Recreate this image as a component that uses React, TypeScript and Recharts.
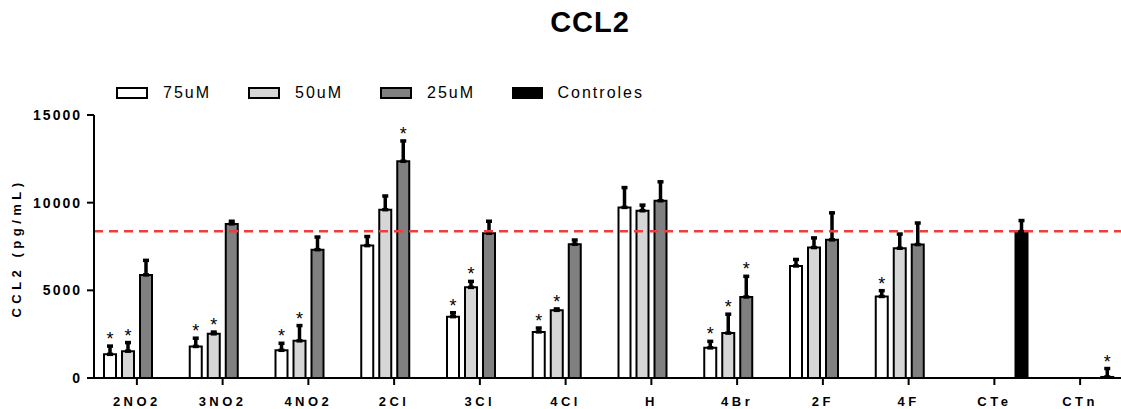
import React from 'react';
import {
  BarChart,
  Bar,
  XAxis,
  YAxis,
  ErrorBar,
  LabelList,
  Legend,
  ReferenceLine,
} from 'recharts';

const FONT = "'Liberation Sans', Arial, sans-serif";

const categories = ['2NO2', '3NO2', '4NO2', '2Cl', '3Cl', '4Cl', 'H', '4Br', '2F', '4F', 'CTe', 'CTn'];

// mean values (pg/mL)
const v75 = [1350, 1800, 1580, 7550, 3500, 2630, 9730, 1720, 6390, 4650, null, null];
const v50 = [1530, 2520, 2120, 9600, 5170, 3860, 9540, 2560, 7440, 7400, null, null];
const v25 = [5880, 8790, 7320, 12360, 8260, 7630, 10110, 4620, 7880, 7610, null, null];
const vCtrl = [null, null, null, null, null, null, null, null, null, null, 8350, 60];

// upper error bars
const e75 = [470, 470, 400, 520, 220, 220, 1130, 370, 370, 330, null, null];
const e50 = [490, 100, 870, 780, 340, 80, 320, 1080, 550, 810, null, null];
const e25 = [830, 150, 720, 1160, 680, 240, 1080, 1180, 1540, 1230, null, null];
const eCtrl = [null, null, null, null, null, null, null, null, null, null, 630, 480];

// significance marks (*)
const s75 = [1, 1, 1, 0, 1, 1, 0, 1, 0, 1, 0, 0];
const s50 = [1, 1, 1, 0, 1, 1, 0, 1, 0, 0, 0, 0];
const s25 = [0, 0, 0, 1, 0, 0, 0, 1, 0, 0, 0, 0];
const sCtrl = [0, 0, 0, 0, 0, 0, 0, 0, 0, 0, 0, 1];

const controlMean = 8370;
const yTicks = [0, 5000, 10000, 15000];

const up = (e: number | null) => (e == null ? null : [0, e]);

const data = categories.map((name, i) => ({
  name,
  v75: v75[i],
  v50: v50[i],
  v25: v25[i],
  ctrl: vCtrl[i],
  e75: up(e75[i]),
  e50: up(e50[i]),
  e25: up(e25[i]),
  eCtrl: up(eCtrl[i]),
}));

const series = [
  { key: 'v75', err: 'e75', name: '75uM', fill: '#ffffff', vals: v75, errs: e75, stars: s75 },
  { key: 'v50', err: 'e50', name: '50uM', fill: '#d6d6d6', vals: v50, errs: e50, stars: s50 },
  { key: 'v25', err: 'e25', name: '25uM', fill: '#808080', vals: v25, errs: e25, stars: s25 },
  { key: 'ctrl', err: 'eCtrl', name: 'Controles', fill: '#000000', vals: vCtrl, errs: eCtrl, stars: sCtrl },
];

// label index skips empty bars, so find the category by its value
const makeStar = (vals: (number | null)[], flags: number[], errs: (number | null)[]) => (props: any) => {
  const vb = props.viewBox || props;
  const { value } = props;
  if (value == null) return null;
  const i = vals.indexOf(Number(value));
  if (i < 0 || !flags[i]) return null;
  const x = Number(vb.x);
  const y = Number(vb.y);
  const w = Number(vb.width);
  const h = Number(vb.height);
  const pxPer = h / Number(value);
  const top = y - (errs[i] || 0) * pxPer;
  return (
    <text x={x + w / 2} y={top - 1} textAnchor="middle" fontSize={18} fontFamily={FONT} fill="#000">
      *
    </text>
  );
};

const XTick = (props: any) => {
  const { x, y, payload } = props;
  return (
    <text x={x} y={y} dy="0.71em" textAnchor="middle" fontSize={13} fontWeight="bold"
      fontFamily={FONT} letterSpacing={3.5} fill="#000">
      {payload.value}
    </text>
  );
};

const YTick = (props: any) => {
  const { x, y, payload } = props;
  return (
    <text x={x} y={y} dy="0.355em" textAnchor="end" fontSize={14} fontWeight="bold"
      fontFamily={FONT} letterSpacing={2} fill="#000">
      {payload.value}
    </text>
  );
};

const YLabel = (props: any) => {
  const vb = props.viewBox;
  const cx = vb.x + 21;
  const cy = vb.y + vb.height / 2 + 1.5;
  return (
    <text x={cx} y={cy} transform={`rotate(-90, ${cx}, ${cy})`} textAnchor="middle" fontSize={13}
      fontWeight="bold" fontFamily={FONT} letterSpacing={4.5} fill="#000">
      CCL2 (pg/mL)
    </text>
  );
};

const LegendContent = () => (
  <div style={{ display: 'flex', alignItems: 'center', height: 18, paddingLeft: 116, fontFamily: FONT }}>
    {series.map(s => (
      <div key={s.name} style={{ display: 'flex', alignItems: 'center', width: 132 }}>
        <span
          style={{
            display: 'inline-block',
            width: 28,
            height: 8,
            background: s.fill,
            border: '2px solid #000',
            marginRight: 15,
          }}
        />
        <span style={{ fontSize: 16, letterSpacing: 2, color: '#000' }}>{s.name}</span>
      </div>
    ))}
  </div>
);

const App: React.FC = () => {
  return (
    <div style={{ position: 'absolute', left: 0, top: 0, width: 1121, height: 409, overflow: 'hidden', background: '#fff' }}>
      <div
        style={{
          position: 'absolute',
          left: 490,
          width: 200,
          top: 8,
          textAlign: 'center',
          fontFamily: FONT,
          fontWeight: 'bold',
          fontSize: 29,
          lineHeight: '29px',
          letterSpacing: 1,
          color: '#000',
        }}
      >
        CCL2
      </div>
      <BarChart
        width={1123}
        height={409}
        data={data}
        margin={{ top: 115, right: 0, bottom: 1, left: 0 }}
        barSize={12}
        barGap={6}
      >
        <XAxis
          dataKey="name"
          interval={0}
          height={30}
          tickSize={7}
          tickMargin={12}
          axisLine={{ stroke: '#000', strokeWidth: 2 }}
          tickLine={{ stroke: '#000', strokeWidth: 2 }}
          tick={<XTick />}
        />
        <YAxis
          width={94}
          domain={[0, 15000]}
          ticks={yTicks}
          interval={0}
          tickSize={7}
          tickMargin={5}
          axisLine={{ stroke: '#000', strokeWidth: 2 }}
          tickLine={{ stroke: '#000', strokeWidth: 2 }}
          tick={<YTick />}
          label={<YLabel />}
        />
        <Legend
          layout="horizontal"
          verticalAlign="middle"
          align="center"
          wrapperStyle={{ top: 84, left: 0, width: 1121 }}
          content={<LegendContent />}
        />
        {series.map(s => (
          <Bar
            key={s.key}
            dataKey={s.key}
            name={s.name}
            fill={s.fill}
            stroke="#000"
            strokeWidth={2}
            isAnimationActive={false}
          >
            <ErrorBar dataKey={s.err} width={3} strokeWidth={3.5} stroke="#000" direction="y" isAnimationActive={false} />
            <LabelList dataKey={s.key} content={makeStar(s.vals, s.stars, s.errs)} />
          </Bar>
        ))}
        <ReferenceLine y={controlMean} stroke="#f03c3c" strokeWidth={2.5} strokeDasharray="9 6" />
      </BarChart>
    </div>
  );
};

export default App;
